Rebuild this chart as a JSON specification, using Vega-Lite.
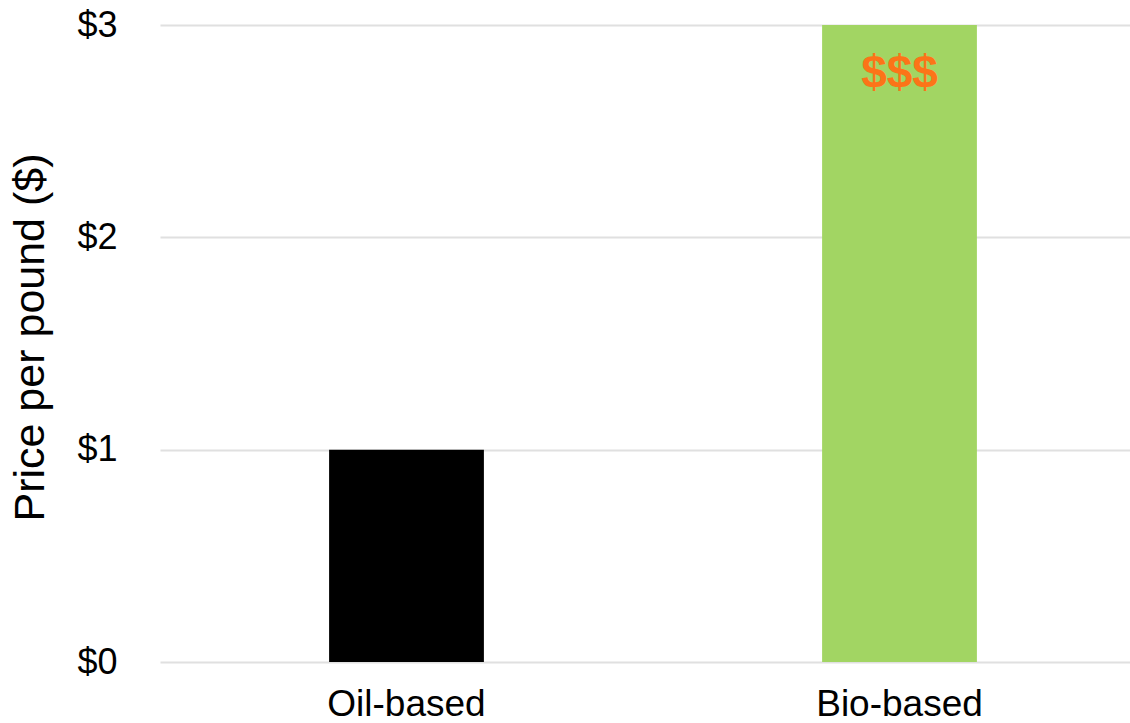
{
  "$schema": "https://vega.github.io/schema/vega-lite/v6.json",
  "autosize": {"type": "none"},
  "padding": {"left": 160, "top": 25, "right": 0, "bottom": 61},
  "width": 986,
  "height": 637,
  "background": "white",
  "config": {
    "view": {"stroke": null},
    "font": "Liberation Sans"
  },
  "data": {
    "values": [
      {"type": "Oil-based", "price": 1, "label": ""},
      {"type": "Bio-based", "price": 3, "label": "$$$"}
    ]
  },
  "encoding": {
    "x": {
      "field": "type",
      "type": "nominal",
      "sort": ["Oil-based", "Bio-based"],
      "scale": {"paddingInner": 0.686, "paddingOuter": 0.343},
      "axis": {
        "title": null,
        "labelAngle": 0,
        "labelFontSize": 37,
        "labelColor": "#000000",
        "labelFont": "Liberation Sans",
        "labelPadding": 24,
        "domain": false,
        "ticks": false
      }
    },
    "y": {
      "field": "price",
      "type": "quantitative",
      "scale": {"domain": [0, 3], "nice": false},
      "axis": {
        "title": "Price per pound ($)",
        "titleFontSize": 43,
        "titleFontWeight": "normal",
        "titleColor": "#000000",
        "titleFont": "Liberation Sans",
        "titlePadding": 24,
        "titleY": 312,
        "values": [0, 1, 2, 3],
        "format": "$,.0f",
        "labelFontSize": 36,
        "labelColor": "#000000",
        "labelFont": "Liberation Sans",
        "labelPadding": 43,
        "domain": false,
        "ticks": false,
        "grid": true,
        "gridColor": "#e0e0e0",
        "gridWidth": 2
      }
    }
  },
  "layer": [
    {
      "mark": {"type": "bar"},
      "encoding": {
        "color": {
          "field": "type",
          "type": "nominal",
          "scale": {"domain": ["Oil-based", "Bio-based"], "range": ["#000000", "#a2d563"]},
          "legend": null
        }
      }
    },
    {
      "mark": {"type": "text", "fontSize": 46, "fontWeight": "bold", "color": "#fc7418", "baseline": "middle", "align": "center", "dy": 49, "font": "Liberation Sans"},
      "encoding": {"text": {"field": "label"}}
    }
  ]
}
